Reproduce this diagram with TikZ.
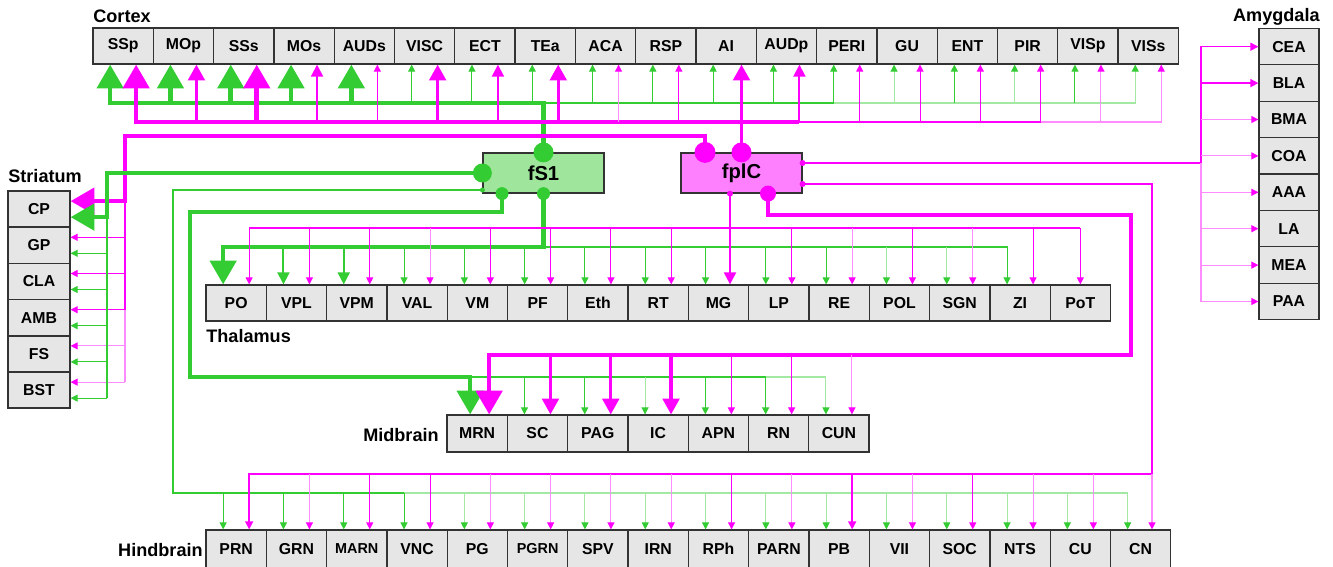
\documentclass[tikz,border=0pt]{standalone}
\usepackage{fontspec}
\setmainfont{Liberation Sans}
\usetikzlibrary{arrows.meta}
\definecolor{FibGreen}{HTML}{33CC33}
\definecolor{FibMag}{HTML}{FF00FF}
\definecolor{BoxFill}{HTML}{E6E6E6}
\definecolor{BoxEdge}{HTML}{333333}
\definecolor{SrcGreen}{HTML}{9FE69C}
\definecolor{SrcMag}{HTML}{FF80FF}
\tikzset{
  reg/.style={rectangle,draw=BoxEdge,fill=BoxFill,line width=0.7pt,
              minimum width=1.206cm,minimum height=0.72cm,inner sep=0pt,
              font=\fontsize{9}{10}\selectfont\bfseries},
  src/.style={rectangle,draw=BoxEdge,line width=0.7pt,
              minimum width=2.42cm,minimum height=0.8cm,inner sep=0pt,
              font=\fontsize{11.5}{13}\selectfont\bfseries},
  lbl/.style={inner sep=0pt,font=\fontsize{10.3}{12}\selectfont\bfseries},
  gA/.style={draw=FibGreen,line width=2.6pt,-{Triangle[length=13.5pt,width=14.8pt]}},
  gC/.style={draw=FibGreen,line width=1.1pt,-{Triangle[length=6.8pt,width=6.8pt]}},
  gD/.style={draw=FibGreen,line width=0.6pt,-{Triangle[length=4pt,width=4pt]}},
  gE/.style={draw=FibGreen!45,line width=0.6pt,-{Triangle[length=4pt,width=4pt,color=FibGreen]}},
  mA/.style={draw=FibMag,line width=2.6pt,-{Triangle[length=13.5pt,width=14.8pt]}},
  mB/.style={draw=FibMag,line width=1.8pt,-{Triangle[length=9pt,width=9.5pt]}},
  mC/.style={draw=FibMag,line width=1.1pt,-{Triangle[length=6.8pt,width=6.8pt]}},
  mH/.style={draw=FibMag,line width=0.85pt,-{Triangle[length=4.5pt,width=4.5pt]}},
  mD/.style={draw=FibMag,line width=0.6pt,-{Triangle[length=4pt,width=4pt]}},
  mE/.style={draw=FibMag!45,line width=0.6pt,-{Triangle[length=4pt,width=4pt,color=FibMag]}}
}

\begin{document}
\begin{tikzpicture}[x=0.02cm,y=-0.02cm]
  \path[fill=white,use as bounding box] (0,0) rectangle (1333,566);

  % target regions
  \foreach \n [count=\i] in {SSp,MOp,SSs,MOs,AUDs,VISC,ECT,TEa,ACA,RSP,AI,AUDp,PERI,GU,ENT,PIR,VISp,VISs} {
    \node[reg] (\n) at ({93+60.3*(\i-0.5)},46) {\n};
    \coordinate (\n-g) at ([xshift=-0.26cm]\n.south);
    \coordinate (\n-m) at ([xshift=0.26cm]\n.south);
  }
  \foreach \n [count=\i] in {CEA,BLA,BMA,COA,AAA,LA,MEA,PAA}
    \node[reg,minimum width=1.2cm,minimum height=0.73cm] (\n) at (1289,{28.5+36.4*(\i-0.5)}) {\n};
  \foreach \n [count=\i] in {CP,GP,CLA,AMB,FS,BST} {
    \node[reg,minimum width=1.24cm] (\n) at (39,{191+36.2*(\i-0.5)}) {\n};
    \coordinate (\n-m) at ([yshift=0.16cm]\n.east);
    \coordinate (\n-g) at ([yshift=-0.16cm]\n.east);
  }
  \foreach \n [count=\i] in {PO,VPL,VPM,VAL,VM,PF,Eth,RT,MG,LP,RE,POL,SGN,ZI,PoT} {
    \node[reg] (\n) at ({206+60.3*(\i-0.5)},303) {\n};
    \coordinate (\n-g) at ([xshift=-0.26cm]\n.north);
    \coordinate (\n-m) at ([xshift=0.26cm]\n.north);
  }
  \foreach \n [count=\i] in {MRN,SC,PAG,IC,APN,RN,CUN} {
    \node[reg,minimum height=0.74cm] (\n) at ({447+60.3*(\i-0.5)},433.5) {\n};
    \coordinate (\n-g) at ([xshift=-0.26cm]\n.north);
    \coordinate (\n-m) at ([xshift=0.26cm]\n.north);
  }
  \coordinate (MRN-g) at ([xshift=-0.14cm]MRN.north);
  \coordinate (MRN-m) at ([xshift=0.24cm]MRN.north);
  \foreach \n/\fs [count=\i] in {PRN/9,GRN/9,MARN/8.2,VNC/9,PG/9,PGRN/8.2,SPV/9,IRN/9,
                                 RPh/9,PARN/9,PB/9,VII/9,SOC/9,NTS/9,CU/9,CN/9} {
    \node[reg,minimum height=0.76cm,font=\fontsize{\fs}{10}\selectfont\bfseries] (\n) at ({206+60.3*(\i-0.5)},549) {\n};
    \coordinate (\n-g) at ([xshift=-0.26cm]\n.north);
    \coordinate (\n-m) at ([xshift=0.26cm]\n.north);
  }

  % group labels
  \node[lbl,anchor=base west] (ctxlbl) at (93,22) {Cortex};
  \node[lbl,anchor=base east] (amylbl) at (1320,21) {Amygdala};
  \node[lbl,anchor=base west] (strlbl) at (8,182) {Striatum};
  \node[lbl,anchor=base west] (thallbl) at (206,342) {Thalamus};
  \node[lbl,anchor=base east] (midlbl) at (439,441) {Midbrain};
  \node[lbl,anchor=base east] (hindlbl) at (203,556) {Hindbrain};

  % injection sites
  \node[src,fill=SrcGreen] (fS1) at (543.5,173) {fS1};
  \node[src,fill=SrcMag] (fplC) at (741.5,173) {fplC};
  \coordinate (s1LB) at ([yshift=-0.34cm]fS1.west);
  \coordinate (s1B1) at ([xshift=-0.83cm]fS1.south);
  \coordinate (s1B2) at (fS1.south);
  \coordinate (pT1) at ([xshift=-0.73cm]fplC.north);
  \coordinate (pR1) at ([yshift=0.2cm]fplC.east);
  \coordinate (pR2) at ([yshift=-0.22cm]fplC.east);
  \coordinate (pB1) at ([xshift=-0.23cm]fplC.south);
  \coordinate (pB2) at ([xshift=0.53cm]fplC.south);

  % bus levels and turning lines
  \coordinate (gCtx) at (0,103);
  \coordinate (mCtx) at (0,122);
  \coordinate (mCPy) at (0,136);
  \coordinate (gStr) at (107,0);
  \coordinate (mStr) at (125,0);
  \coordinate (gHindX) at (173,0);
  \coordinate (gMidX) at (190,0);
  \coordinate (gMidY) at (0,212);
  \coordinate (mMidY) at (0,215);
  \coordinate (mThal) at (0,228);
  \coordinate (gThal) at (0,247);
  \coordinate (mMid) at (0,355);
  \coordinate (gMid) at (0,377);
  \coordinate (mHind) at (0,474);
  \coordinate (gHind) at (0,493);
  \coordinate (mMidX) at (1131,0);
  \coordinate (mHindX) at (1152,0);
  \coordinate (mAmyX) at (1201,0);

  % fS1 -> cortex
  \draw[gA] (fS1.north) -- (fS1.north |- gCtx) -- (SSp-g |- gCtx) -- (SSp-g);
  \foreach \n in {MOp,SSs,MOs,AUDs} \draw[gA] (\n-g |- gCtx) -- (\n-g);
  \draw[gD,-] (fS1.north |- gCtx) -- (PERI-g |- gCtx);
  \draw[gE] (PERI-g |- gCtx) -- (VISs-g |- gCtx) -- (VISs-g);
  \foreach \n in {VISC,ECT,TEa,ACA,RSP,AI,AUDp,PERI,ENT,VISp} \draw[gD] (\n-g |- gCtx) -- (\n-g);
  \foreach \n in {GU,PIR} \draw[gE] (\n-g |- gCtx) -- (\n-g);

  % fplC -> cortex
  \draw[mA] (AUDp-m |- mCtx) -- (SSp-m |- mCtx) -- (SSp-m);
  \draw[mB] (fplC.north) -- (fplC.north |- AI.south);
  \draw[mA] (SSs-m |- mCtx) -- (SSs-m);
  \foreach \n in {MOp,VISC,TEa} \draw[mB] (\n-m |- mCtx) -- (\n-m);
  \foreach \n in {MOs,ECT,AUDp} \draw[mC] (\n-m |- mCtx) -- (\n-m);
  \draw[mC,-] (AUDp-m |- mCtx) -- (PIR-m |- mCtx);
  \draw[mE] (PIR-m |- mCtx) -- (VISs-m |- mCtx) -- (VISs-m);
  \foreach \n in {AUDs,RSP,PERI,GU,ENT,PIR} \draw[mD] (\n-m |- mCtx) -- (\n-m);
  \foreach \n in {ACA,VISp} \draw[mE] (\n-m |- mCtx) -- (\n-m);

  % striatum
  \draw[mA] (pT1) -- (pT1 |- mCPy) -- (mStr |- mCPy) -- (mStr |- CP-m) -- (CP-m);
  \draw[mD,-] (mStr |- CP-m) -- (mStr |- AMB-m);
  \draw[mE,-] (mStr |- AMB-m) -- (mStr |- BST-m);
  \foreach \n in {GP,CLA,AMB} \draw[mD] (mStr |- \n-m) -- (\n-m);
  \foreach \n in {FS,BST} \draw[mE] (mStr |- \n-m) -- (\n-m);
  \draw[gA] (fS1.west) -- (gStr |- fS1.west) -- (gStr |- CP-g) -- (CP-g);
  \draw[gD,-] (gStr |- CP-g) -- (gStr |- BST-g);
  \foreach \n in {GP,CLA,AMB,FS,BST} \draw[gD] (gStr |- \n-g) -- (\n-g);

  % thalamus
  \draw[gA] (s1B2) -- (s1B2 |- gThal) -- (PO-g |- gThal) -- (PO-g);
  \foreach \n in {VPL,VPM} \draw[gC] (\n-g |- gThal) -- (\n-g);
  \draw[gD,-] (s1B2 |- gThal) -- (RE-g |- gThal);
  \draw[gD] (RE-g |- gThal) -- (ZI-g |- gThal) -- (ZI-g);
  \foreach \n in {VAL,VM,PF,Eth,RT,MG,LP,RE} \draw[gD] (\n-g |- gThal) -- (\n-g);
  \foreach \n in {POL,SGN} \draw[gE] (\n-g |- gThal) -- (\n-g);
  \draw[mD] (PoT.north |- mThal) -- (PO-m |- mThal) -- (PO-m);
  \draw[mD] (PoT.north |- mThal) -- (PoT.north);
  \foreach \n in {VPL,VPM,VM,PF,Eth,RT,LP,POL,ZI} \draw[mD] (\n-m |- mThal) -- (\n-m);
  \foreach \n in {VAL,RE,SGN} \draw[mE] (\n-m |- mThal) -- (\n-m);
  \draw[mC] (pB1) -- (pB1 |- MG.north);

  % midbrain
  \draw[gA] (s1B1) -- (s1B1 |- gMidY) -- (gMidX |- gMidY) -- (gMidX |- gMid) -- (MRN-g |- gMid) -- (MRN-g);
  \draw[gD] (MRN-g |- gMid) -- (RN-g |- gMid) -- (RN-g);
  \draw[gE] (RN-g |- gMid) -- (CUN-g |- gMid) -- (CUN-g);
  \foreach \n in {SC,PAG,APN} \draw[gD] (\n-g |- gMid) -- (\n-g);
  \draw[gE] (IC-g |- gMid) -- (IC-g);
  \draw[mA] (pB2) -- (pB2 |- mMidY) -- (mMidX |- mMidY) -- (mMidX |- mMid) -- (MRN-m |- mMid) -- (MRN-m);
  \foreach \n in {SC,PAG,IC} \draw[mB] (\n-m |- mMid) -- (\n-m);
  \foreach \n in {APN,RN} \draw[mD] (\n-m |- mMid) -- (\n-m);
  \draw[mE] (CUN-m |- mMid) -- (CUN-m);

  % hindbrain
  \draw[gD] (s1LB) -- (gHindX |- s1LB) -- (gHindX |- gHind) -- (PRN-g |- gHind) -- (PRN-g);
  \draw[gD,-] (PRN-g |- gHind) -- (VNC-g |- gHind);
  \draw[gE] (VNC-g |- gHind) -- (CN-g |- gHind) -- (CN-g);
  \foreach \n in {GRN,MARN,VNC} \draw[gD] (\n-g |- gHind) -- (\n-g);
  \foreach \n in {PG,PGRN,SPV,IRN,RPh,PARN,PB,VII,SOC,NTS,CU} \draw[gE] (\n-g |- gHind) -- (\n-g);
  \draw[mH] (pR2) -- (mHindX |- pR2) -- (mHindX |- mHind) -- (PRN-m |- mHind) -- (PRN-m);
  \draw[mE] (mHindX |- mHind) -- (mHindX |- CN.north);
  \draw[mH] (PB-m |- mHind) -- (PB-m);
  \foreach \n in {MARN,VNC,RPh,SOC} \draw[mD] (\n-m |- mHind) -- (\n-m);
  \foreach \n in {GRN,PG,PGRN,SPV,IRN,PARN,VII,NTS,CU} \draw[mE] (\n-m |- mHind) -- (\n-m);

  % amygdala
  \draw[mH] (pR1) -- (mAmyX |- pR1) -- (mAmyX |- CEA.west) -- (CEA.west);
  \draw[mH] (mAmyX |- BLA.west) -- (BLA.west);
  \draw[mE,-] (mAmyX |- pR1) -- (mAmyX |- PAA.west);
  \foreach \n in {BMA,COA,AAA,LA,MEA,PAA} \draw[mE] (mAmyX |- \n.west) -- (\n.west);

  % source dots
  \fill[FibGreen] (fS1.north) circle (0.2cm);
  \fill[FibGreen] (fS1.west) circle (0.19cm);
  \fill[FibGreen] (s1LB) circle (0.05cm);
  \fill[FibGreen] (s1B1) circle (0.13cm);
  \fill[FibGreen] (s1B2) circle (0.13cm);
  \fill[FibMag] (pT1) circle (0.21cm);
  \fill[FibMag] (fplC.north) circle (0.2cm);
  \fill[FibMag] (pR1) circle (0.06cm);
  \fill[FibMag] (pR2) circle (0.06cm);
  \fill[FibMag] (pB1) circle (0.06cm);
  \fill[FibMag] (pB2) circle (0.16cm);
\end{tikzpicture}
\end{document}
